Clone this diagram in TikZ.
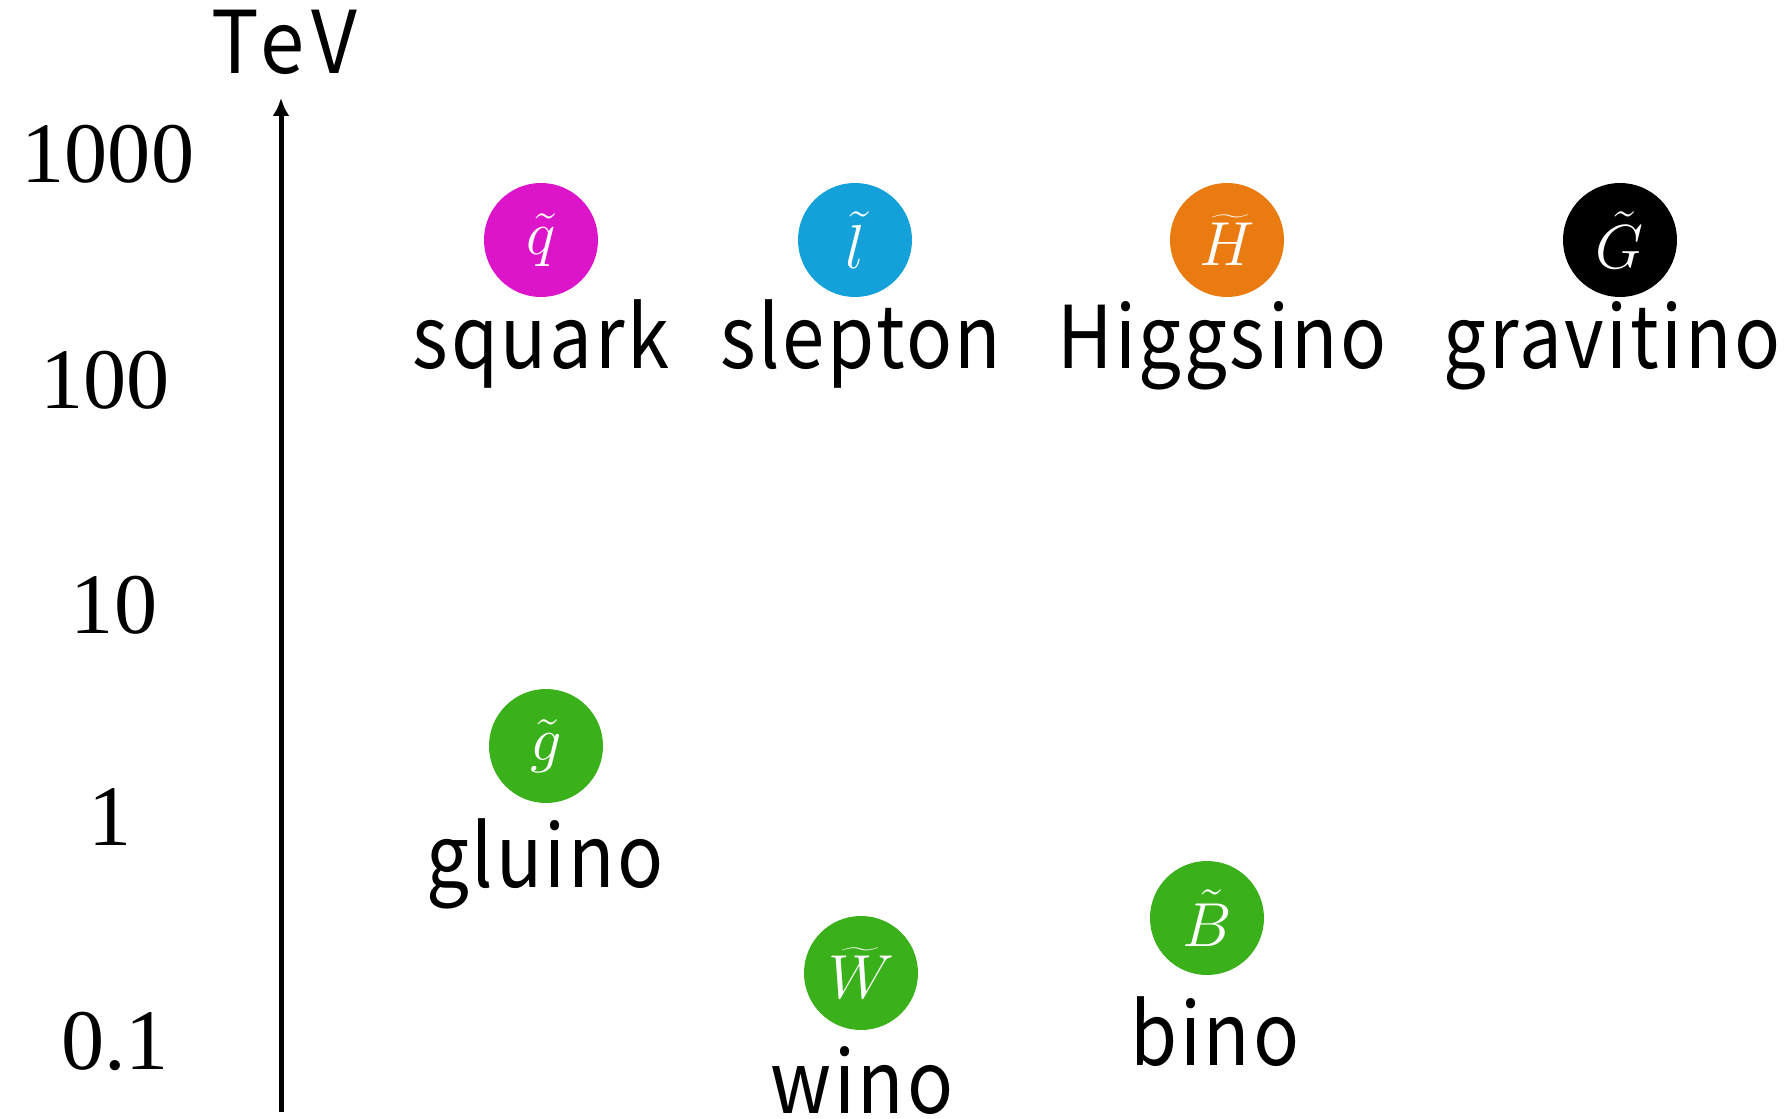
\documentclass[tikz,border=0pt]{standalone}
\usepackage{fontspec}
\usetikzlibrary{arrows.meta}
\newfontfamily\lblfont[FakeStretch=0.88,LetterSpace=3]{Noto Sans CJK JP}
\newfontfamily\tevfont[FakeStretch=0.92,LetterSpace=9]{Noto Sans CJK JP}
\newfontfamily\numfont{Liberation Serif}
\definecolor{cMag}{RGB}{220,20,202}
\definecolor{cBlue}{RGB}{20,160,216}
\definecolor{cOrange}{RGB}{234,123,16}
\definecolor{cGreen}{RGB}{58,176,26}
\tikzset{
  particle/.style={circle, inner sep=0pt, minimum size=45.6pt, text=white,
    font=\fontsize{29}{32}\selectfont},
  partlbl/.style={anchor=base, inner sep=0pt, font=\lblfont\fontsize{34.6}{40}\selectfont},
  ticklbl/.style={anchor=base, inner sep=0pt, font=\numfont\fontsize{34.5}{40}\selectfont},
  axisline/.style={line width=2pt, -{Latex[length=7.2pt,width=6.8pt]}}
}
\begin{document}
\begin{tikzpicture}[x=0.4pt,y=-0.4pt]
\useasboundingbox (0,0) rectangle (1789,1119);
% axis
\coordinate (axbot) at (281,1112);
\coordinate (axtop) at (281,98);
\draw[axisline] (axbot) -- (axtop);
\node[anchor=base, inner sep=0pt, font=\tevfont\fontsize{34.6}{40}\selectfont] (tev) at (284,74) {TeV};
% ticks
\node[ticklbl] (t1000) at (108,183) {1000};
\node[ticklbl] (t100) at (105,409) {100};
\node[ticklbl] (t10) at (114,633) {10};
\node[ticklbl] (t1) at (110,845) {1};
\node[ticklbl] (t01) at (115,1069) {0.1};
% particles
\node[particle, fill=cMag] (sq) at (541,240) {$\tilde{q}$};
\node[partlbl] (sqn) at (541,368) {squark};
\node[particle, fill=cBlue] (sl) at (855,240) {$\tilde{l}$};
\node[partlbl] (sln) at (861,368) {slepton};
\node[particle, fill=cOrange] (hi) at (1227,240) {$\widetilde{H}$};
\node[partlbl] (hin) at (1222,368) {Higgsino};
\node[particle, fill=black] (gr) at (1620,240) {$\tilde{G}$};
\node[partlbl] (grn) at (1612,368) {gravitino};
\node[particle, fill=cGreen] (gl) at (546,746) {$\tilde{g}$};
\node[partlbl] (gln) at (545,887) {gluino};
\node[particle, fill=cGreen] (wi) at (861,973) {$\widetilde{W}$};
\node[partlbl] (win) at (862,1113) {wino};
\node[particle, fill=cGreen] (bi) at (1207,918) {$\tilde{B}$};
\node[partlbl] (bin) at (1215,1065) {bino};
\end{tikzpicture}
\end{document}
